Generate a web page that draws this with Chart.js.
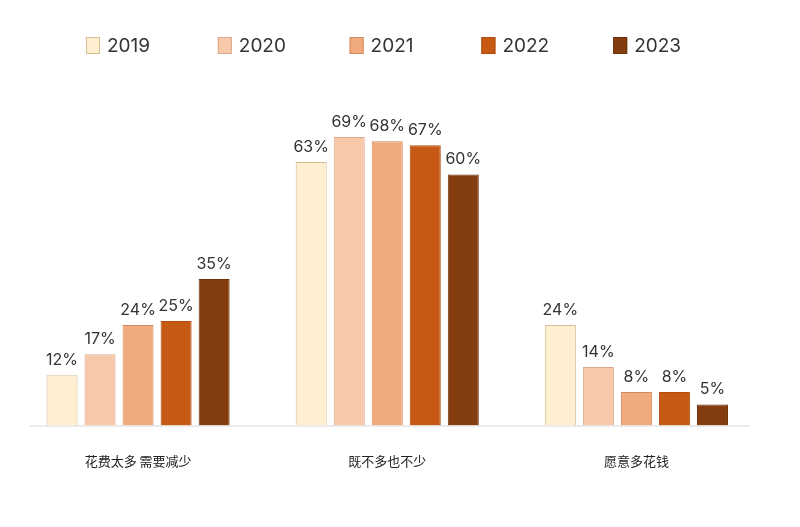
<!DOCTYPE html>
<html>
<head>
<meta charset="utf-8">
<style>
html,body{margin:0;padding:0;background:#fff;}
#wrap{width:800px;height:527px;position:relative;}
</style>
<script src="https://cdn.jsdelivr.net/npm/chart.js@4"></script>
</head>
<body>
<div id="wrap"><canvas id="c" width="800" height="527"></canvas></div>
<script>
const categories = ['花费太多 需要减少', '既不多也不少', '愿意多花钱'];
const years = ['2019', '2020', '2021', '2022', '2023'];
const v2019 = [12, 63, 24];
const v2020 = [17, 69, 14];
const v2021 = [24, 68, 8];
const v2022 = [25, 67, 8];
const v2023 = [35, 60, 5];
const fills = ['#FDEFD0', '#F7C8AA', '#F0AA7C', '#C65A14', '#833D0E'];
const borders = ['#D6BD98', '#D8A889', '#D28B5E', '#B04C0E', '#6E3209'];
const series = [v2019, v2020, v2021, v2022, v2023];

const datasets = years.map((y, i) => ({
  label: y,
  data: series[i],
  backgroundColor: fills[i],
  borderColor: borders[i],
  borderWidth: 1,
  categoryPercentage: 0.763,
  barPercentage: 0.816
}));

const valueLabels = {
  id: 'valueLabels',
  afterDatasetsDraw(chart) {
    const ctx = chart.ctx;
    ctx.save();
    ctx.font = '16px Inter, "Noto Sans", sans-serif';
    ctx.fillStyle = '#333';
    ctx.textAlign = 'center';
    ctx.textBaseline = 'bottom';
    chart.data.datasets.forEach((ds, di) => {
      chart.getDatasetMeta(di).data.forEach((bar, i) => {
        ctx.fillText(ds.data[i] + '%', bar.x, bar.y - 7);
      });
    });
    ctx.restore();
  }
};

const baseLine = {
  id: 'baseLine',
  beforeDatasetsDraw(chart) {
    const ctx = chart.ctx;
    const y0 = chart.scales.y.getPixelForValue(0);
    ctx.save();
    ctx.strokeStyle = '#E4E4E4';
    ctx.lineWidth = 1.5;
    ctx.beginPath();
    ctx.moveTo(chart.chartArea.left + 16, y0 + 0.5);
    ctx.lineTo(chart.chartArea.right - 11, y0 + 0.5);
    ctx.stroke();
    ctx.restore();
  }
};

const customLegend = {
  id: 'customLegend',
  afterDraw(chart) {
    const ctx = chart.ctx;
    ctx.save();
    ctx.font = '19px Inter, "Noto Sans", sans-serif';
    ctx.textBaseline = 'middle';
    ctx.textAlign = 'left';
    const startX = 86, step = 131.8, cy = 45;
    chart.data.datasets.forEach((ds, i) => {
      const x = startX + i * step;
      ctx.fillStyle = ds.backgroundColor;
      ctx.strokeStyle = ds.borderColor;
      ctx.lineWidth = 1;
      ctx.fillRect(x, cy - 8, 14, 17);
      ctx.strokeRect(x + 0.5, cy - 7.5, 13, 16);
      ctx.fillStyle = '#333';
      ctx.fillText(ds.label, x + 21, cy + 1);
    });
    ctx.restore();
  }
};

new Chart(document.getElementById('c'), {
  type: 'bar',
  data: { labels: categories, datasets },
  plugins: [valueLabels, baseLine, customLegend],
  options: {
    responsive: false,
    animation: false,
    layout: { padding: { top: 91, left: 13.5, right: 39, bottom: 30 } },
    plugins: { legend: { display: false }, tooltip: { enabled: false } },
    scales: {
      x: {
        grid: { display: false, drawTicks: false },
        border: { display: false },
        ticks: {
          color: '#222',
          padding: 28,
          font: { size: 13, family: '"Noto Sans CJK SC", sans-serif' }
        }
      },
      y: {
        display: false,
        min: 0,
        max: 80
      }
    }
  }
});
</script>
</body>
</html>
